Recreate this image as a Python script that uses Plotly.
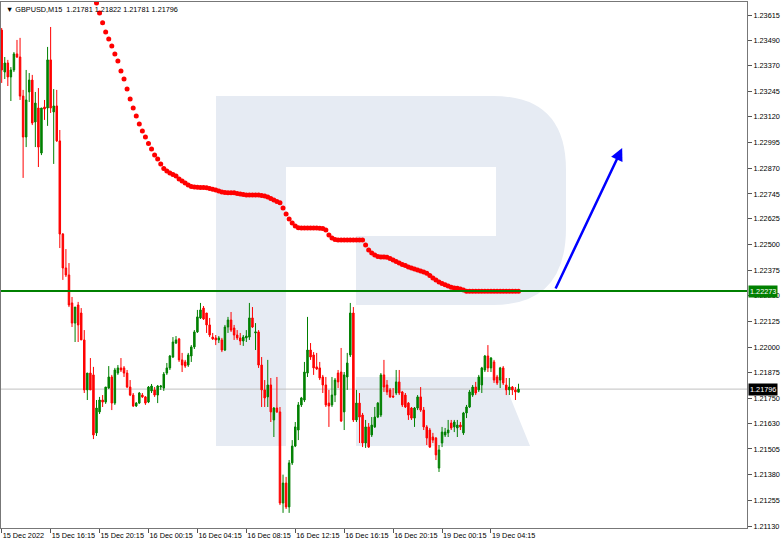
import plotly.graph_objects as go

# ---------------- data ----------------
OPEN = [1.23542, 1.23338, 1.23382, 1.23314, 1.23348, 1.23426, 1.23411, 1.23221, 1.23022, 1.23241,
        1.23299, 1.23095, 1.23163, 1.22944, 1.23168, 1.23163, 1.23397, 1.23144, 1.23173, 1.23003,
        1.22550, 1.22385, 1.22351, 1.22215, 1.22117, 1.22205, 1.22166, 1.22035, 1.21792, 1.21874,
        1.21865, 1.21583, 1.21685, 1.21743, 1.21733, 1.21801, 1.21855, 1.21728, 1.21874, 1.21899,
        1.21899, 1.21874, 1.21806, 1.21767, 1.21714, 1.21728, 1.21767, 1.21758, 1.21733, 1.21787,
        1.21792, 1.21767, 1.21806, 1.21801, 1.21874, 1.21899, 1.21952, 1.22020, 1.22040, 1.21938,
        1.21928, 1.21913, 1.21957, 1.22001, 1.22074, 1.22142, 1.22190, 1.22166, 1.22108, 1.22049,
        1.22045, 1.22035, 1.22035, 1.21986, 1.22098, 1.22132, 1.22093, 1.22059, 1.22045, 1.22030,
        1.22045, 1.22049, 1.22142, 1.22069, 1.22074, 1.21913, 1.21792, 1.21758, 1.21816, 1.21646,
        1.21704, 1.21685, 1.21242, 1.21339, 1.21223, 1.21437, 1.21519, 1.21597, 1.21719, 1.21743,
        1.21874, 1.21986, 1.21962, 1.21904, 1.21899, 1.21855, 1.21816, 1.21728, 1.21719, 1.21767,
        1.21874, 1.21879, 1.21685, 1.21855, 1.21962, 1.22166, 1.21646, 1.21728, 1.21670, 1.21534,
        1.21612, 1.21573, 1.21612, 1.21660, 1.21670, 1.21865, 1.21816, 1.21792, 1.21762, 1.21777,
        1.21831, 1.21782, 1.21767, 1.21728, 1.21704, 1.21655, 1.21704, 1.21758, 1.21694, 1.21612,
        1.21597, 1.21563, 1.21558, 1.21412, 1.21534, 1.21573, 1.21583, 1.21631, 1.21612, 1.21607,
        1.21621, 1.21583, 1.21680, 1.21709, 1.21767, 1.21806, 1.21792, 1.21816, 1.21889, 1.21957,
        1.21899, 1.21928, 1.21855, 1.21840, 1.21899, 1.21816, 1.21792, 1.21806, 1.21792, 1.21781]
HIGH = [1.23552, 1.23411, 1.23397, 1.23362, 1.23435, 1.23494, 1.23504, 1.23251, 1.23348, 1.23333,
        1.23324, 1.23241, 1.23260, 1.23114, 1.23202, 1.23460, 1.23557, 1.23255, 1.23251, 1.23056,
        1.22555, 1.22477, 1.22409, 1.22244, 1.22195, 1.22220, 1.22190, 1.22083, 1.21874, 1.21947,
        1.21904, 1.21743, 1.21758, 1.21767, 1.21806, 1.21908, 1.21865, 1.21899, 1.21913, 1.21947,
        1.21908, 1.21889, 1.21840, 1.21777, 1.21733, 1.21782, 1.21777, 1.21762, 1.21811, 1.21821,
        1.21806, 1.21816, 1.21816, 1.21879, 1.21923, 1.21962, 1.22049, 1.22054, 1.22045, 1.21972,
        1.21938, 1.21972, 1.22010, 1.22083, 1.22181, 1.22215, 1.22200, 1.22166, 1.22142, 1.22069,
        1.22059, 1.22054, 1.22045, 1.22108, 1.22147, 1.22171, 1.22108, 1.22083, 1.22069, 1.22059,
        1.22083, 1.22215, 1.22195, 1.22117, 1.22083, 1.21952, 1.21840, 1.21938, 1.21850, 1.21709,
        1.21855, 1.21709, 1.21380, 1.21369, 1.21451, 1.21548, 1.21636, 1.21733, 1.21758, 1.21928,
        1.22147, 1.22020, 1.21976, 1.21972, 1.21928, 1.21865, 1.21855, 1.21792, 1.21855, 1.21850,
        1.21889, 1.21996, 1.21879, 1.21972, 1.22215, 1.22195, 1.21792, 1.21777, 1.21680, 1.21646,
        1.21631, 1.21660, 1.21709, 1.21733, 1.21874, 1.21938, 1.21840, 1.21801, 1.21801, 1.21889,
        1.21889, 1.21787, 1.21777, 1.21733, 1.21709, 1.21709, 1.21767, 1.21806, 1.21709, 1.21621,
        1.21607, 1.21583, 1.21563, 1.21524, 1.21612, 1.21607, 1.21646, 1.21646, 1.21646, 1.21646,
        1.21636, 1.21685, 1.21719, 1.21792, 1.21816, 1.21831, 1.21865, 1.21904, 1.21962, 1.22010,
        1.21952, 1.21938, 1.21865, 1.21904, 1.21908, 1.21850, 1.21850, 1.21811, 1.21806, 1.21822]
LOW = [1.23285, 1.23304, 1.23270, 1.23197, 1.23338, 1.23406, 1.23202, 1.22823, 1.22973, 1.23192,
       1.23080, 1.22973, 1.22876, 1.22934, 1.23105, 1.23076, 1.23139, 1.22891, 1.22998, 1.22482,
       1.22327, 1.22341, 1.22195, 1.22098, 1.22025, 1.22025, 1.22035, 1.21777, 1.21743, 1.21792,
       1.21553, 1.21568, 1.21675, 1.21709, 1.21724, 1.21797, 1.21694, 1.21719, 1.21865, 1.21879,
       1.21855, 1.21801, 1.21762, 1.21709, 1.21709, 1.21724, 1.21753, 1.21719, 1.21728, 1.21777,
       1.21758, 1.21728, 1.21792, 1.21787, 1.21865, 1.21889, 1.21947, 1.22015, 1.21928, 1.21879,
       1.21899, 1.21904, 1.21928, 1.21991, 1.22069, 1.22137, 1.22132, 1.22069, 1.22049, 1.22035,
       1.22010, 1.22020, 1.21976, 1.21981, 1.22069, 1.22074, 1.22035, 1.22035, 1.22010, 1.22006,
       1.22025, 1.22035, 1.22093, 1.21986, 1.21899, 1.21709, 1.21709, 1.21709, 1.21636, 1.21563,
       1.21680, 1.21232, 1.21194, 1.21213, 1.21194, 1.21427, 1.21514, 1.21548, 1.21709, 1.21733,
       1.21855, 1.21938, 1.21865, 1.21889, 1.21840, 1.21777, 1.21709, 1.21612, 1.21709, 1.21733,
       1.21801, 1.21636, 1.21597, 1.21792, 1.21952, 1.21636, 1.21636, 1.21534, 1.21514, 1.21510,
       1.21510, 1.21563, 1.21607, 1.21655, 1.21660, 1.21782, 1.21767, 1.21753, 1.21753, 1.21767,
       1.21767, 1.21709, 1.21704, 1.21646, 1.21646, 1.21612, 1.21694, 1.21685, 1.21597, 1.21524,
       1.21510, 1.21534, 1.21451, 1.21393, 1.21514, 1.21563, 1.21563, 1.21597, 1.21587, 1.21563,
       1.21597, 1.21573, 1.21655, 1.21704, 1.21758, 1.21767, 1.21782, 1.21777, 1.21879, 1.21879,
       1.21879, 1.21826, 1.21816, 1.21801, 1.21816, 1.21767, 1.21767, 1.21767, 1.21743, 1.21781]
CLOSE = [1.23348, 1.23382, 1.23314, 1.23348, 1.23426, 1.23411, 1.23221, 1.23022, 1.23202, 1.23299,
         1.23090, 1.23187, 1.22973, 1.23163, 1.23158, 1.23397, 1.23163, 1.23173, 1.23003, 1.22550,
         1.22385, 1.22351, 1.22205, 1.22117, 1.22195, 1.22108, 1.22035, 1.21792, 1.21874, 1.21792,
         1.21573, 1.21704, 1.21743, 1.21733, 1.21806, 1.21855, 1.21728, 1.21889, 1.21899, 1.21889,
         1.21874, 1.21806, 1.21767, 1.21714, 1.21728, 1.21777, 1.21758, 1.21728, 1.21806, 1.21811,
         1.21767, 1.21811, 1.21811, 1.21869, 1.21899, 1.21957, 1.22025, 1.22035, 1.21938, 1.21913,
         1.21908, 1.21962, 1.22001, 1.22074, 1.22147, 1.22181, 1.22137, 1.22108, 1.22059, 1.22040,
         1.22035, 1.22045, 1.21986, 1.22098, 1.22132, 1.22083, 1.22059, 1.22045, 1.22030, 1.22049,
         1.22054, 1.22142, 1.22098, 1.22074, 1.21913, 1.21792, 1.21753, 1.21816, 1.21685, 1.21704,
         1.21685, 1.21242, 1.21339, 1.21223, 1.21437, 1.21519, 1.21612, 1.21719, 1.21753, 1.21879,
         1.21986, 1.21952, 1.21899, 1.21894, 1.21850, 1.21816, 1.21719, 1.21714, 1.21767, 1.21840,
         1.21831, 1.21641, 1.21865, 1.21923, 1.22166, 1.21646, 1.21728, 1.21660, 1.21534, 1.21612,
         1.21514, 1.21621, 1.21660, 1.21728, 1.21865, 1.21806, 1.21782, 1.21758, 1.21758, 1.21831,
         1.21777, 1.21719, 1.21709, 1.21670, 1.21655, 1.21704, 1.21758, 1.21694, 1.21612, 1.21558,
         1.21514, 1.21548, 1.21476, 1.21500, 1.21587, 1.21587, 1.21597, 1.21607, 1.21636, 1.21621,
         1.21612, 1.21680, 1.21709, 1.21782, 1.21806, 1.21777, 1.21855, 1.21899, 1.21957, 1.21899,
         1.21947, 1.21840, 1.21826, 1.21899, 1.21826, 1.21792, 1.21806, 1.21792, 1.21782, 1.21796]

# red dotted indicator, one value per bar starting at bar DOT_START
DOT_START = 31
DOTS = [1.23674, 1.23625, 1.23577, 1.23533, 1.23498, 1.23464, 1.23426, 1.23392, 1.23343, 1.23304,
        1.23255, 1.23207, 1.23163, 1.23124, 1.23085, 1.23051, 1.23022, 1.22990, 1.22964, 1.22934,
        1.22915, 1.22891, 1.22869, 1.22857, 1.22847, 1.22840, 1.22832, 1.22818, 1.22808, 1.22798,
        1.22789, 1.22781, 1.22779, 1.22777, 1.22776, 1.22776, 1.22775, 1.22772, 1.22768, 1.22764,
        1.22759, 1.22755, 1.22752, 1.22751, 1.22751, 1.22751, 1.22747, 1.22745, 1.22742, 1.22740,
        1.22740, 1.22740, 1.22740, 1.22740, 1.22737, 1.22735, 1.22730, 1.22723, 1.22716, 1.22708,
        1.22702, 1.22677, 1.22648, 1.22623, 1.22604, 1.22589, 1.22581, 1.22579, 1.22579, 1.22579,
        1.22579, 1.22579, 1.22579, 1.22578, 1.22577, 1.22570, 1.22545, 1.22531, 1.22524, 1.22521,
        1.22521, 1.22521, 1.22521, 1.22521, 1.22521, 1.22521, 1.22521, 1.22521, 1.22497, 1.22472,
        1.22458, 1.22448, 1.22441, 1.22438, 1.22438, 1.22437, 1.22431, 1.22424, 1.22417, 1.22409,
        1.22402, 1.22397, 1.22390, 1.22385, 1.22380, 1.22375, 1.22370, 1.22365, 1.22359, 1.22348,
        1.22336, 1.22327, 1.22317, 1.22310, 1.22303, 1.22297, 1.22291, 1.22288, 1.22286, 1.22283,
        1.22278, 1.22272, 1.22272, 1.22272, 1.22272, 1.22272, 1.22272, 1.22272, 1.22272, 1.22272,
        1.22272, 1.22272, 1.22272, 1.22272, 1.22272, 1.22272, 1.22272, 1.22272, 1.22272]

LEVEL = 1.22273          # green horizontal level
LAST_PRICE = 1.21796     # last close (grey line)
ARROW_FROM = (180.9, 1.22278)   # (bar, price)
ARROW_TO = (202.9, 1.22968)

X_TICK_BARS = [0, 16, 32, 48, 64, 80, 96, 112, 128, 144, 160]
X_TICK_TEXT = ["15 Dec 2022", "15 Dec 16:15", "15 Dec 20:15", "16 Dec 00:15", "16 Dec 04:15",
               "16 Dec 08:15", "16 Dec 12:15", "16 Dec 16:15", "16 Dec 20:15", "19 Dec 00:15",
               "19 Dec 04:15"]
Y_TICKS = [1.23615, 1.23490, 1.23370, 1.23245, 1.23120, 1.22995, 1.22870, 1.22745, 1.22625,
           1.22500, 1.22375, 1.22250, 1.22125, 1.22000, 1.21875, 1.21750, 1.21630, 1.21505,
           1.21380, 1.21255, 1.21130]
HEADER = "\u25BC GBPUSD,M15  1.21781 1.21822 1.21781 1.21796"

# ---------------- figure ----------------
W, H = 782, 543
ML, MR, MT, MB = 1, 35, 2, 15
PW, PH = W - ML - MR, H - MT - MB
FONT = "Liberation Sans, Arial, sans-serif"
FS = 7.3


def pp(x, y):
    """pixel -> paper coordinates for the watermark"""
    return f"{(x - ML) / PW:.5f},{(H - MB - y) / PH:.5f}"


logo_bowl = ("M " + pp(216, 96) + " L " + pp(493, 96) + " Q " + pp(566, 96) + " " + pp(566, 170)
             + " L " + pp(566, 228) + " Q " + pp(566, 305) + " " + pp(493, 305)
             + " L " + pp(356, 305) + " L " + pp(356, 236) + " L " + pp(496, 236)
             + " L " + pp(496, 167) + " L " + pp(286, 167) + " L " + pp(286, 446)
             + " L " + pp(216, 446) + " Z")
logo_leg = ("M " + pp(356, 377) + " L " + pp(502, 377) + " L " + pp(530, 446)
            + " L " + pp(356, 446) + " Z")
LOGO_COLOR = "#e6ebf3"

bars = list(range(len(OPEN)))

fig = go.Figure()
fig.add_trace(go.Candlestick(
    x=bars, open=OPEN, high=HIGH, low=LOW, close=CLOSE,
    increasing=dict(line=dict(color="#008000", width=1), fillcolor="#008000"),
    decreasing=dict(line=dict(color="#ff0000", width=1), fillcolor="#ff0000"),
    whiskerwidth=0, showlegend=False, hoverinfo="skip"))
fig.add_trace(go.Scatter(
    x=list(range(DOT_START, DOT_START + len(DOTS))), y=DOTS, mode="markers",
    marker=dict(color="#ff0000", size=5, line=dict(width=0)),
    showlegend=False, hoverinfo="skip"))

shapes = [
    dict(type="path", path=logo_bowl, xref="paper", yref="paper", fillcolor=LOGO_COLOR,
         line=dict(width=0), layer="below"),
    dict(type="path", path=logo_leg, xref="paper", yref="paper", fillcolor=LOGO_COLOR,
         line=dict(width=0), layer="below"),
    dict(type="line", xref="paper", x0=0, x1=1, yref="y", y0=LAST_PRICE, y1=LAST_PRICE,
         line=dict(color="#c0c0c0", width=1), layer="below"),
    dict(type="line", xref="paper", x0=0, x1=1, yref="y", y0=LEVEL, y1=LEVEL,
         line=dict(color="#008000", width=2)),
]

annotations = [
    dict(x=ARROW_TO[0], y=ARROW_TO[1], ax=ARROW_FROM[0], ay=ARROW_FROM[1],
         xref="x", yref="y", axref="x", ayref="y", showarrow=True, text="",
         arrowcolor="#0000ff", arrowwidth=2.5, arrowhead=2, arrowsize=1),
    dict(x=1, xref="paper", y=LEVEL, yref="y", text=f"{LEVEL:.5f}", showarrow=False,
         xanchor="left", xshift=1, bgcolor="#008000", borderpad=1,
         font=dict(family=FONT, size=FS, color="white")),
    dict(x=1, xref="paper", y=LAST_PRICE, yref="y", text=f"{LAST_PRICE:.5f}", showarrow=False,
         xanchor="left", xshift=1, bgcolor="#000000", borderpad=1,
         font=dict(family=FONT, size=FS, color="white")),
    dict(x=0, xref="paper", y=1, yref="paper", text=HEADER, showarrow=False,
         xanchor="left", yanchor="top", xshift=3, yshift=-1,
         font=dict(family=FONT, size=FS, color="#000000")),
]

fig.update_layout(
    width=W, height=H, margin=dict(l=ML, r=MR, t=MT, b=MB, autoexpand=False),
    paper_bgcolor="white", plot_bgcolor="white",
    shapes=shapes, annotations=annotations, showlegend=False,
    font=dict(family=FONT, size=FS, color="#000000"),
    xaxis=dict(range=[-0.229, 243.72], rangeslider=dict(visible=False),
               tickmode="array", tickvals=X_TICK_BARS, ticktext=X_TICK_TEXT,
               ticks="outside", ticklen=4, tickcolor="#555555", tickangle=0,
               ticklabelposition="outside right", automargin=False,
               showgrid=False, zeroline=False, showline=True, linecolor="#777777",
               linewidth=1, mirror=True, fixedrange=True),
    yaxis=dict(range=[1.211205, 1.236785], side="right", tickmode="array",
               tickvals=Y_TICKS, ticktext=[f"{v:.5f}" for v in Y_TICKS],
               ticks="outside", ticklen=4, tickcolor="#555555", automargin=False,
               showgrid=False, zeroline=False, showline=True, linecolor="#777777",
               linewidth=1, mirror=True, fixedrange=True),
)

fig.write_html("out.html", config={"displayModeBar": False},
               post_script="document.body.style.margin='0';document.body.style.overflow='hidden';")
